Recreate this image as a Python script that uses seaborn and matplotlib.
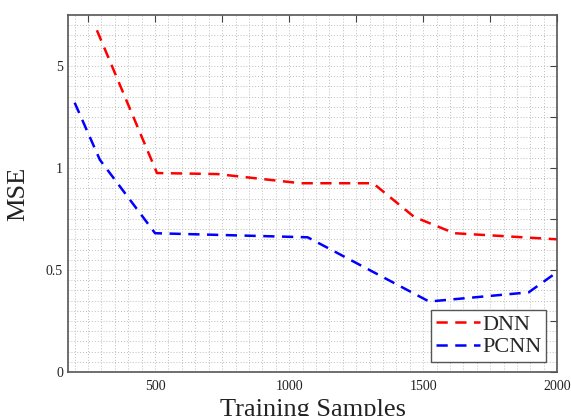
import numpy as np
import pandas as pd
import matplotlib
matplotlib.use("Agg")
import matplotlib.pyplot as plt
import seaborn as sns
from matplotlib.ticker import FixedLocator, FixedFormatter, MultipleLocator
from matplotlib.lines import Line2D

# ---- data ----
dnn_x = [283, 507, 732, 1043, 1313, 1466, 1616, 2000]
dnn_mse = [6.4, 0.975, 0.97, 0.925, 0.925, 0.76, 0.68, 0.65]
pcnn_x = [200, 294, 500, 1069, 1522, 1893, 2000]
pcnn_mse = [3.56, 1.32, 0.68, 0.66, 0.345, 0.39, 0.49]
series_names = ["DNN", "PCNN"]
series_colors = ["#ff0000", "#0000ff"]
y_ticks = [0, 0.5, 1, 5]
y_tick_labels = ["0", "0.5", "1", "5"]
x_ticks = [500, 1000, 1500, 2000]

df = pd.concat([
    pd.DataFrame({"Training Samples": dnn_x, "MSE": dnn_mse, "model": series_names[0]}),
    pd.DataFrame({"Training Samples": pcnn_x, "MSE": pcnn_mse, "model": series_names[1]}),
])

sns.set_theme(style="white")
plt.rcParams["font.family"] = ["Liberation Serif", "DejaVu Serif"]

fig = plt.figure(figsize=(5.71, 4.16), dpi=100)
ax = fig.add_axes([0.119, 0.106, 0.857, 0.858])

# piecewise-linear axis: 0 -> 0, 0.5 -> 1, 1 -> 2, 5 -> 3, 9 -> 4
_mse_knots = [0, 0.5, 1, 5, 9]
_pos_knots = [0, 1, 2, 3, 4]
def fwd(v):
    return np.interp(v, _mse_knots, _pos_knots)
def inv(p):
    return np.interp(p, _pos_knots, _mse_knots)
ax.set_yscale("function", functions=(fwd, inv))

# dotted grid
for gx in np.arange(200, 2001, 50):
    ax.axvline(gx, color="#bdbdbd", lw=0.7, ls=(0, (1, 2)), zorder=0)
for gp in np.arange(0.1, 3.5, 0.1):
    ax.axhline(inv(gp), color="#bdbdbd", lw=0.7, ls=(0, (1, 2)), zorder=0)

sns.lineplot(data=df, x="Training Samples", y="MSE", hue="model",
             palette=series_colors, hue_order=series_names, ax=ax,
             lw=1.8, sort=False, legend=False)
for ln in ax.get_lines()[-2:]:
    ln.set_linestyle((0, (4.5, 3)))

ax.set_xlim(175, 2000)
ax.set_ylim(0, 7)
ax.xaxis.set_major_locator(FixedLocator(x_ticks))
ax.xaxis.set_minor_locator(MultipleLocator(250))
ax.yaxis.set_major_locator(FixedLocator(y_ticks))
ax.yaxis.set_major_formatter(FixedFormatter(y_tick_labels))
ax.yaxis.set_minor_locator(FixedLocator([0.25, 0.75, 3]))
ax.yaxis.set_minor_formatter(FixedFormatter([]))

ax.tick_params(which="both", direction="in", top=True, right=True,
               colors="#444444", labelcolor="#222222", labelsize=10)
ax.tick_params(which="major", length=5, width=0.8)
ax.tick_params(which="minor", length=5, width=0.8)
ax.tick_params(axis="x", pad=6)
for s in ax.spines.values():
    s.set_color("#555555")
    s.set_linewidth(1.2)

ax.set_xlabel("Training Samples", fontsize=19, color="#222222", labelpad=4)
ax.set_ylabel("MSE", fontsize=19, color="#222222", labelpad=12)

handles = [Line2D([], [], color=c, lw=1.8, ls=(0, (4.5, 3))) for c in series_colors]
leg = ax.legend(handles, series_names, loc="lower right", fontsize=16,
                frameon=True, fancybox=False, edgecolor="#555555",
                handlelength=2.0, handletextpad=0.1, borderpad=0.2,
                labelspacing=0.1, borderaxespad=0.0,
                bbox_to_anchor=(0.977, 0.028))
leg.get_frame().set_linewidth(1.0)
leg.get_frame().set_facecolor("white")
leg.get_frame().set_alpha(1)

fig.savefig("out.png", dpi=100)
